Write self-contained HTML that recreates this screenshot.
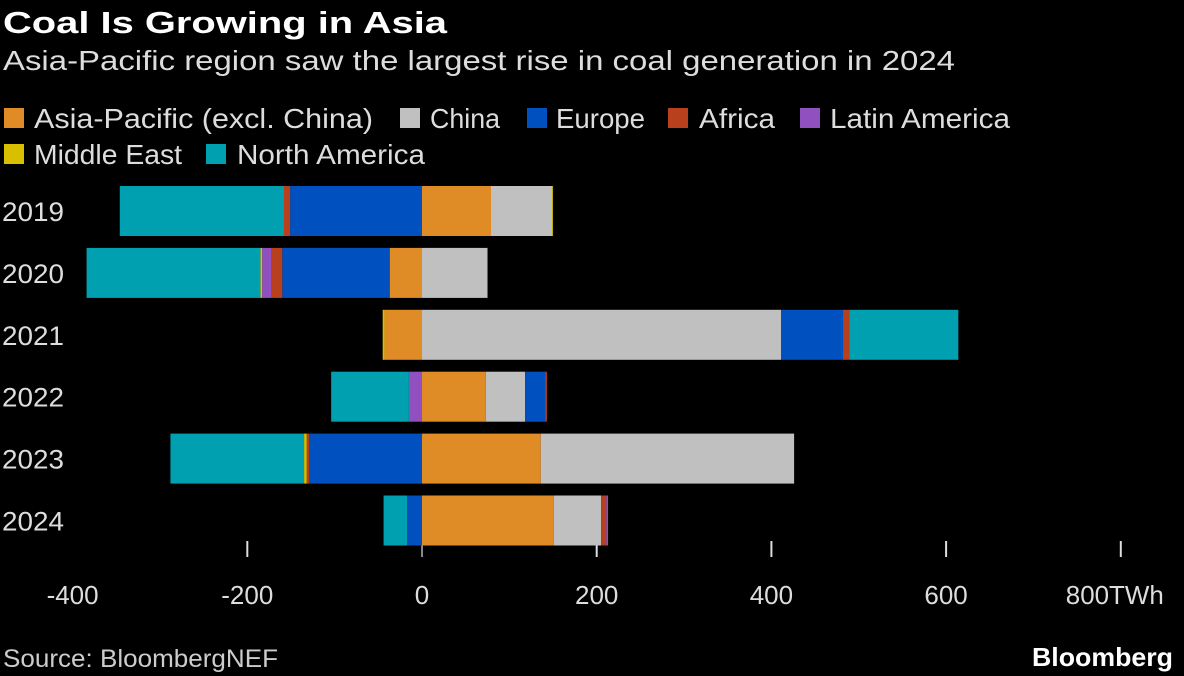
<!DOCTYPE html>
<html><head><meta charset="utf-8"><style>
body{margin:0;background:#000;width:1184px;height:676px;overflow:hidden;font-family:"Liberation Sans",sans-serif}
</style></head><body>
<svg id="c" width="1184" height="676" style="position:absolute;left:0;top:0" font-family="Liberation Sans, sans-serif">
<text x="3" y="33" fill="#fff" font-size="31" font-weight="bold" textLength="444" lengthAdjust="spacingAndGlyphs">Coal Is Growing in Asia</text>
<text x="3" y="70" fill="#ddd" font-size="28" textLength="952" lengthAdjust="spacingAndGlyphs">Asia-Pacific region saw the largest rise in coal generation in 2024</text>
<text x="3" y="667" fill="#ccc" font-size="25" textLength="275" lengthAdjust="spacingAndGlyphs">Source: BloombergNEF</text>
<text x="1032" y="666" fill="#fff" font-size="26" font-weight="bold" textLength="141" lengthAdjust="spacingAndGlyphs">Bloomberg</text>
</svg>
<script>
const years=["2019","2020","2021","2022","2023","2024"];
const seriesNames=["Asia-Pacific (excl. China)","China","Europe","Africa","Latin America","Middle East","North America"];
const colors=["#e08c26","#c0c0c0","#0050c0","#b8401c","#9050c0","#d8c000","#00a0b0"];
const asiaPacific=[79,-37,-43,73,136,151];
const china=[70,75,411,45,290,54];
const europe=[-151,-123,71,23,-129,-17];
const africa=[-7,-12,7,2,-3,6];
const latinAmerica=[0,-11,0,-15,0,2];
const middleEast=[1,-2,-2,0,-3,0];
const northAmerica=[-188,-199,125,-89,-153,-27];
const ticks=[-400,-200,0,200,400,600,800];
const series=[asiaPacific,china,europe,africa,latinAmerica,middleEast,northAmerica];
const svg=document.getElementById('c');const NS='http://www.w3.org/2000/svg';
const x=v=>422+v*0.8735;
const yc=i=>211+i*61.9;
function mk(t,a,p){const e=document.createElementNS(NS,t);for(const k in a)e.setAttribute(k,a[k]);(p||svg).appendChild(e);return e;}
// legend layout: [swatchX, row, textStart, textEnd]
const legLayout=[[4,0,34,373],[400,0,430,500],[527,0,556,645],[668,0,699,775],[800,0,830,1010],[4,1,34,182],[206,1,237,425]];
seriesNames.forEach((n,i)=>{
 const L=legLayout[i];const top=L[1]?144:108;
 const g=mk('g',{});
 
 
 mk('rect',{x:L[0],y:top,width:20,height:20,fill:colors[i]},g);
 const t=mk('text',{x:L[2],y:top+20,fill:'#ddd','font-size':28,textLength:L[3]-L[2],lengthAdjust:'spacingAndGlyphs'},g);
 t.textContent=n;
});
// ticks
ticks.forEach(v=>{
 if(v!==-400){const l=mk('line',{x1:x(v),x2:x(v),y1:541,y2:557,stroke:v===0?'#888':'#ddd','stroke-width':2});
 }
 let t;
 if(v===800){t=mk('text',{x:x(v)-55,y:604,fill:'#ddd','font-size':26,textLength:98,lengthAdjust:'spacingAndGlyphs'});t.textContent='800TWh';}
 else{t=mk('text',{x:x(v),y:604,fill:'#ddd','font-size':26,'text-anchor':'middle'});t.textContent=String(v);}
 
});
years.forEach((yr,i)=>{
 let pos=0,neg=0;
 series.forEach((s,j)=>{
  const v=s[i];if(!v)return;let a,b;
  if(v>0){a=pos;b=pos+v;pos=b;}else{a=neg+v;b=neg;neg=a;}
  const r=mk('rect',{x:x(a),y:yc(i)-25,width:x(b)-x(a),height:50,fill:colors[j]});
  
  
 });
 const t=mk('text',{x:2,y:yc(i)+10,fill:'#ddd','font-size':27,textLength:62,lengthAdjust:'spacingAndGlyphs'});
 
 t.textContent=yr;
});
</script>
</body></html>
